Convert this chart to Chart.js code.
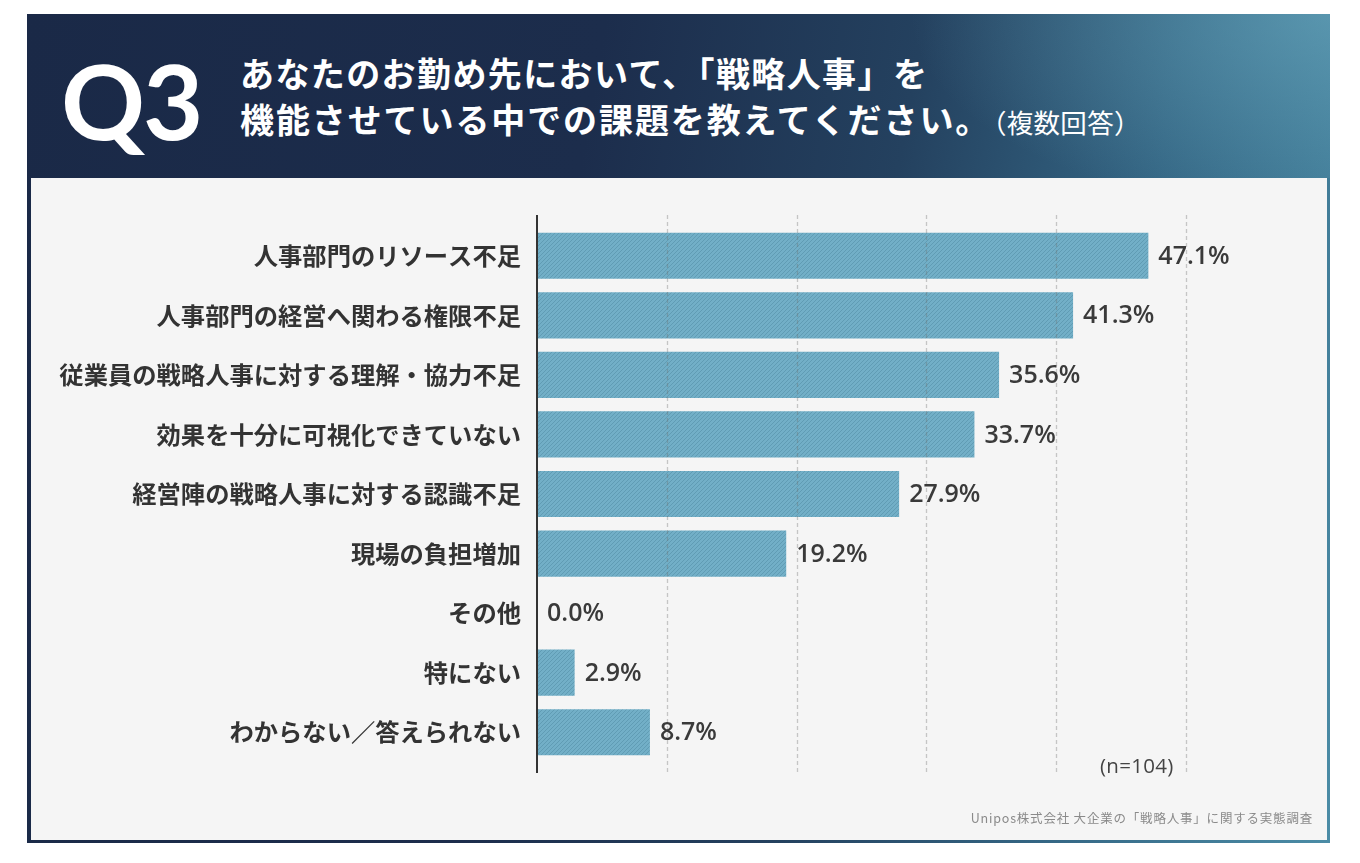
<!DOCTYPE html>
<html lang="ja">
<head>
<meta charset="utf-8">
<script src="https://cdn.jsdelivr.net/npm/chart.js@4.4.1/dist/chart.umd.min.js"></script>
<style>
  html,body{margin:0;padding:0;background:#fff;width:1360px;height:863px;overflow:hidden;}
  #frame{position:absolute;left:27px;top:14px;width:1303px;height:829px;
    background:linear-gradient(100deg,#1a2947 0%,#1c2d4c 40%,#24415f 62%,#346684 80%,#4b8ca6 100%);}
  #frame:after{content:"";position:absolute;left:0;top:0;right:0;height:164px;
    background:radial-gradient(ellipse 420px 200px at 100% 0%,rgba(120,185,205,0.45),rgba(120,185,205,0) 100%);}
  #panel{position:absolute;left:31px;top:178px;width:1296px;height:662px;background:#f5f5f5;}
  #q3{position:absolute;left:61px;top:40px;font-family:Lato,"Open Sans",sans-serif;font-weight:700;
    font-size:104px;line-height:120px;color:#fff;letter-spacing:-2px;z-index:2;}
  .t{position:absolute;left:240px;font-family:"Noto Sans CJK JP",sans-serif;font-weight:700;color:#fff;
    font-size:34px;line-height:40px;white-space:nowrap;z-index:2;letter-spacing:1.4px;}
  .t .w{letter-spacing:1.9px;}
  .t small{font-size:26.5px;font-weight:400;letter-spacing:0.3px;margin-left:2px;}
  #n{position:absolute;left:1100px;top:751px;font-family:"Open Sans",sans-serif;font-size:20.5px;color:#444;z-index:3;letter-spacing:0.3px;}
  #src{position:absolute;right:47px;top:808px;font-family:"Noto Sans CJK JP",sans-serif;font-size:12.5px;color:#8a8a8a;letter-spacing:0.8px;z-index:3;}
  #c{position:absolute;left:0;top:0;z-index:2;}
</style>
</head>
<body>
<div id="frame"></div>
<div id="panel"></div>
<div id="q3">Q3</div>
<div class="t" style="top:53px;">あなたのお勤め先において、「戦略人事」を</div>
<div class="t" style="top:99px;"><span class="w">機能させている中での課題を教えてください。</span><small>（複数回答）</small></div>
<div id="n">(n=104)</div>
<div id="src">Unipos株式会社 大企業の「戦略人事」に関する実態調査</div>
<canvas id="c" width="1360" height="863"></canvas>
<script>
const categories = [
  '人事部門のリソース不足',
  '人事部門の経営へ関わる権限不足',
  '従業員の戦略人事に対する理解・協力不足',
  '効果を十分に可視化できていない',
  '経営陣の戦略人事に対する認識不足',
  '現場の負担増加',
  'その他',
  '特にない',
  'わからない／答えられない'
];
const values = [47.1, 41.3, 35.6, 33.7, 27.9, 19.2, 0.0, 2.9, 8.7];
const xTicks = [0, 10, 20, 30, 40, 50];

function stripePattern(){
  const p = document.createElement('canvas');
  p.width = 4; p.height = 4;
  const g = p.getContext('2d');
  g.fillStyle = '#72afc7';
  g.fillRect(0,0,4,4);
  g.strokeStyle = '#5e9ab2';
  g.lineWidth = 0.9;
  g.beginPath();
  g.moveTo(-1,5); g.lineTo(5,-1);
  g.moveTo(-1,1); g.lineTo(1,-1);
  g.moveTo(3,5); g.lineTo(5,3);
  g.stroke();
  return document.getElementById('c').getContext('2d').createPattern(p,'repeat');
}

const overlay = {
  id:'overlay',
  afterDatasetsDraw(chart){
    const ctx = chart.ctx, xs = chart.scales.x, a = chart.chartArea;
    const top = a.top - 11, bot = a.bottom + 11;
    ctx.save();
    ctx.setLineDash([4,3]);
    ctx.lineWidth = 1.3;
    ctx.strokeStyle = 'rgba(110,110,110,0.35)';
    xTicks.forEach(v=>{
      if(v===0) return;
      const x = Math.round(xs.getPixelForValue(v))+0.5;
      ctx.beginPath(); ctx.moveTo(x,top); ctx.lineTo(x,bot); ctx.stroke();
    });
    ctx.setLineDash([]);
    ctx.strokeStyle = '#333';
    ctx.lineWidth = 2;
    const x0 = xs.getPixelForValue(0);
    ctx.beginPath(); ctx.moveTo(x0,top); ctx.lineTo(x0,bot); ctx.stroke();
    // value labels
    ctx.fillStyle = '#3a3a3a';
    ctx.font = '600 25px "Open Sans", sans-serif';
    ctx.textAlign = 'left';
    ctx.textBaseline = 'middle';
    const meta = chart.getDatasetMeta(0);
    meta.data.forEach((bar,i)=>{
      ctx.fillText(values[i].toFixed(1)+'%', bar.x + 10, bar.y + 1);
    });
    ctx.restore();
  }
};

new Chart(document.getElementById('c'), {
  type:'bar',
  data:{ labels: categories, datasets:[{ data: values, backgroundColor: stripePattern(), borderWidth:0,
    barPercentage:0.775, categoryPercentage:1 }]},
  options:{
    indexAxis:'y', responsive:false, animation:false,
    layout:{ padding:{ left:0, right:174, top:226, bottom:101 } },
    plugins:{ legend:{display:false}, tooltip:{enabled:false} },
    scales:{
      x:{ display:false, min:0, max:50 },
      y:{
        afterFit(s){ s.width = 537; },
        grid:{ display:false, drawTicks:false },
        border:{ display:false },
        ticks:{ padding:16, color:'#333', font:{ family:'"Noto Sans CJK JP", sans-serif', size:24.3, weight:'bold' } }
      }
    }
  },
  plugins:[overlay]
});
</script>
</body>
</html>
